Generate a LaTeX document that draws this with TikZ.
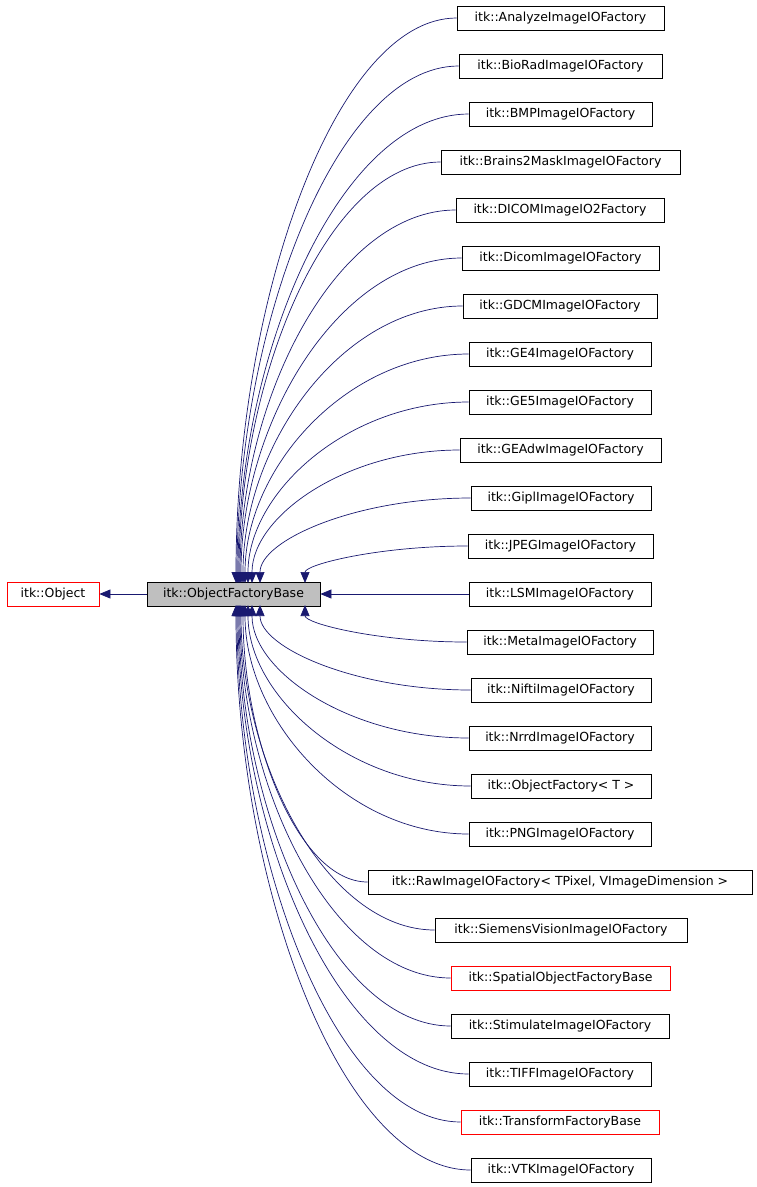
\documentclass[tikz,border=0pt]{standalone}
\usepackage{fontspec}
\setmainfont{DejaVu Sans}
\usetikzlibrary{arrows.meta}
\definecolor{edgec}{HTML}{191970}
\tikzset{x=1pt,y=-1pt,
 cls/.style={draw=black,fill=white,inner sep=0pt,minimum height=24pt,font=\fontsize{12.5pt}{14pt}\selectfont,line width=0.8pt},
 redcls/.style={cls,draw=red},
 edge/.style={draw=edgec,line width=0.7pt,-{Triangle[length=11pt,width=9pt]}}}
\begin{document}
\begin{tikzpicture}
\useasboundingbox (0,0) rectangle (757,1187);
\node[redcls,minimum width=92pt] (obj) at (53,594) {itk::Object};
\node[cls,fill={rgb,255:red,191;green,191;blue,191},minimum width=173pt] (base) at (233.5,594) {itk::ObjectFactoryBase};
\draw[edge] (base.west) -- (obj.east);
\foreach \i/\xa/\xb/\t/\st/\ex in {
1/457/664/AnalyzeImageIOFactory/cls/236,
2/459/662/BioRadImageIOFactory/cls/237,
3/469/652/BMPImageIOFactory/cls/238,
4/441/680/Brains2MaskImageIOFactory/cls/239,
5/456/664/DICOMImageIO2Factory/cls/240,
6/462/659/DicomImageIOFactory/cls/241,
7/463/657/GDCMImageIOFactory/cls/243,
8/469/651/GE4ImageIOFactory/cls/245,
9/469/651/GE5ImageIOFactory/cls/248,
10/460/661/GEAdwImageIOFactory/cls/252,
11/471/651/GiplImageIOFactory/cls/260,
12/468/653/JPEGImageIOFactory/cls/305,
13/469/651/LSMImageIOFactory/cls/0,
14/467/653/MetaImageIOFactory/cls/305,
15/471/651/NiftiImageIOFactory/cls/260,
16/469/651/NrrdImageIOFactory/cls/252,
17/471/651/{ObjectFactory< T >}/cls/248,
18/469/651/PNGImageIOFactory/cls/245,
19/368/752/{RawImageIOFactory< TPixel, VImageDimension >}/cls/243,
20/435/687/SiemensVisionImageIOFactory/cls/241,
21/451/670/SpatialObjectFactoryBase/redcls/240,
22/451/669/StimulateImageIOFactory/cls/239,
23/469/651/TIFFImageIOFactory/cls/238,
24/461/659/TransformFactoryBase/redcls/237,
25/471/651/VTKImageIOFactory/cls/236}{
 \pgfmathsetmacro{\yy}{18+48*(\i-1)}
 \pgfmathsetmacro{\xc}{(\xa+\xb)/2}
 \pgfmathsetmacro{\ww}{\xb-\xa}
 \node[\st,minimum width=\ww pt] (n\i) at (\xc,\yy) {itk::\t};
 \ifnum\i=13
  \draw[edge] (n\i.west) -- (base.east);
 \else
  \pgfmathsetmacro{\ey}{\i<13 ? 583 : 605}
  \pgfmathsetmacro{\cx}{\xa-0.55*(\xa-\ex)}
  \pgfmathsetmacro{\cy}{\ey+0.5*(\yy-\ey)}
  \draw[edge] (n\i.west) .. controls (\cx,\yy) and (\ex,\cy) .. (\ex,\ey);
 \fi
}
\end{tikzpicture}
\end{document}
